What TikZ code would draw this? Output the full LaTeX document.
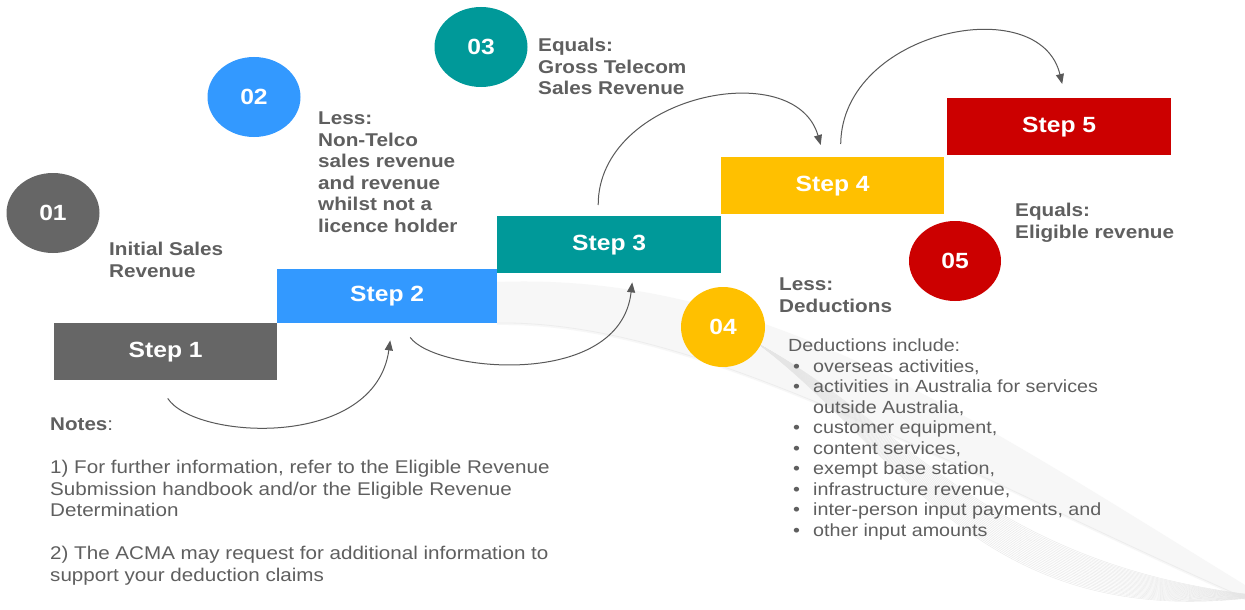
\documentclass[tikz,border=0pt]{standalone}
\usepackage{fontspec}
\setmainfont[FakeStretch=1.12]{Liberation Sans}
\usetikzlibrary{arrows.meta,shapes.geometric}
\definecolor{cgrey}{HTML}{666666}
\definecolor{cblue}{HTML}{3399FF}
\definecolor{cteal}{HTML}{009999}
\definecolor{cyellow}{HTML}{FFC000}
\definecolor{cred}{HTML}{CC0000}
\definecolor{txt}{HTML}{5F5F5F}
\definecolor{arr}{HTML}{595959}
\begin{document}
\begin{tikzpicture}[x=1pt,y=-1pt,
  stepbox/.style={anchor=north west, inner sep=0pt, text=white,
    font=\fontsize{22}{26}\selectfont\bfseries},
  numdisc/.style={ellipse, inner sep=0pt, minimum width=93pt, minimum height=80pt,
    text=white, font=\fontsize{22}{26}\selectfont\bfseries},
  caption/.style={anchor=north west, inner sep=0pt, align=left, text=txt,
    font=\fontsize{18.5}{21.5}\selectfont\bfseries},
  plain/.style={anchor=north west, inner sep=0pt, align=left, text=txt,
    font=\fontsize{18.4}{21.5}\selectfont},
  flow/.style={draw=arr, line width=1pt, -{Triangle[length=10pt,width=8pt]}}]

\useasboundingbox (0,0) rectangle (1245,610);
\fill[white] (0,0) rectangle (1245,610);

% faint ribbon in the background
\fill[gray!6] (497,282) .. controls (760,272) and (960,410) .. (1245,585)
  -- (1245,600) .. controls (950,470) and (700,322) .. (497,325) -- cycle;
\draw[gray!14, line width=0.8pt] (1245,598) .. controls (950,468) and (700,320) .. (497,323);
\foreach \i in {0,...,22} {
  \draw[gray!20, line width=0.35pt] (760,345) .. controls (900,{420+1.5*\i}) and (980,{560+3*\i}) .. (1245,{594+0.2*\i});
}

% staircase of steps
\node[stepbox, fill=cgrey,   minimum width=223pt, minimum height=57pt] (s1) at (54,323)  {Step 1};
\node[stepbox, fill=cblue,   minimum width=220pt, minimum height=54pt] (s2) at (277,269) {Step 2};
\node[stepbox, fill=cteal,   minimum width=224pt, minimum height=57pt] (s3) at (497,216) {Step 3};
\node[stepbox, fill=cyellow, minimum width=223pt, minimum height=57pt] (s4) at (721,157) {Step 4};
\node[stepbox, fill=cred,    minimum width=224pt, minimum height=57pt] (s5) at (947,98)  {Step 5};

% numbered discs
\node[numdisc, fill=cgrey]  (n1) at (53,213)  {01};
\node[numdisc, fill=cblue]  (n2) at (254,97)  {02};
\node[numdisc, fill=cteal]  (n3) at (481,47)  {03};
\node[numdisc, fill=cyellow, minimum width=84pt] (n4) at (723,327) {04};
\node[numdisc, fill=cred, minimum width=92pt]   (n5) at (955,261) {05};

% captions
\node[caption] (c1) at (109,242) {Initial Sales\\Revenue};
\node[caption] (c2) at (318,112) {Less:\\Non-Telco\\sales revenue\\and revenue\\whilst not a\\licence holder};
\node[caption] (c3) at (538,38)  {Equals:\\Gross Telecom\\Sales Revenue};
\node[caption] (c4) at (779,278) {Less:\\Deductions};
\node[caption] (c5) at (1015,203) {Equals:\\Eligible revenue};

% list of deductions
\node[anchor=north west, inner sep=0pt, text=txt, font=\fontsize{17.6}{20.5}\selectfont] (ded) at (788,337) {%
  \begin{tabular}{@{}p{25pt}@{}l@{}}
  \multicolumn{2}{@{}l@{}}{Deductions include:}\\
  \hspace{5pt}\textbullet & overseas activities,\\
  \hspace{5pt}\textbullet & activities in Australia for services\\
   & outside Australia,\\
  \hspace{5pt}\textbullet & customer equipment,\\
  \hspace{5pt}\textbullet & content services,\\
  \hspace{5pt}\textbullet & exempt base station,\\
  \hspace{5pt}\textbullet & infrastructure revenue,\\
  \hspace{5pt}\textbullet & inter-person input payments, and\\
  \hspace{5pt}\textbullet & other input amounts
  \end{tabular}};

% notes
\node[plain] (notes) at (50,418) {\textbf{Notes}:\\[21.5pt]
1) For further information, refer to the Eligible Revenue\\
Submission handbook and/or the Eligible Revenue\\
Determination\\[21.5pt]
2) The ACMA may request for additional information to\\
support your deduction claims};

% connectors between the steps
\draw[flow] ([shift={(2,18)}]s1.south) .. controls (195,440) and (375,450) .. ([shift={(3,17)}]s2.south);
\draw[flow] ([shift={(23,14)}]s2.south) .. controls (435,372) and (620,390) .. ([shift={(23,9)}]s3.south);
\draw[flow] ([shift={(-11,-11)}]s3.north) .. controls (598,95) and (795,55) .. ([shift={(-12,-12)}]s4.north);
\draw[flow] ([shift={(8,-13)}]s4.north) .. controls (842,30) and (1040,-10) .. ([shift={(3,-14)}]s5.north);
\end{tikzpicture}
\end{document}
